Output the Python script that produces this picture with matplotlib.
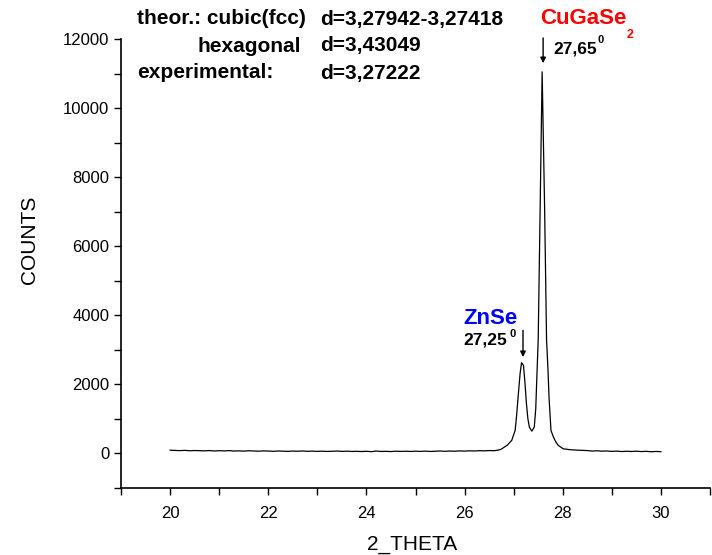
import matplotlib
matplotlib.use("Agg")
import matplotlib.pyplot as plt
from matplotlib.ticker import MultipleLocator

plt.rcParams['font.family'] = ['Liberation Sans', 'DejaVu Sans']

# 2-theta (degrees) and counts
two_theta = [
    20.0, 20.1, 20.2, 20.3, 20.4, 20.5, 20.6, 20.7, 20.8, 20.9,
    21.0, 21.1, 21.2, 21.3, 21.4, 21.5, 21.6, 21.7, 21.8, 21.9,
    22.0, 22.1, 22.2, 22.3, 22.4, 22.5, 22.6, 22.7, 22.8, 22.9,
    23.0, 23.1, 23.2, 23.3, 23.4, 23.5, 23.6, 23.7, 23.8, 23.9,
    24.0, 24.1, 24.2, 24.3, 24.4, 24.5, 24.6, 24.7, 24.8, 24.9,
    25.0, 25.1, 25.2, 25.3, 25.4, 25.5, 25.6, 25.7, 25.8, 25.9,
    26.0, 26.1, 26.2, 26.3, 26.4, 26.5, 26.6, 26.68,
    26.74, 26.79, 26.87, 26.96, 27.03, 27.06, 27.09, 27.13, 27.16, 27.20,
    27.23, 27.26, 27.29, 27.32, 27.37, 27.42, 27.45, 27.47, 27.50, 27.54,
    27.58, 27.63, 27.67, 27.70, 27.72, 27.76, 27.81, 27.86, 27.91, 28.01,
    28.14,
    28.3, 28.4, 28.5, 28.6, 28.7, 28.8, 28.9, 29.0, 29.1, 29.2,
    29.3, 29.4, 29.5, 29.6, 29.7, 29.8, 29.9, 30.0,
]
counts = [
    95, 88, 82, 90, 78, 85, 80, 76, 84, 72,
    80, 74, 82, 70, 76, 68, 78, 72, 65, 74,
    70, 62, 72, 66, 60, 70, 64, 72, 62, 68,
    60, 66, 58, 64, 70, 60, 66, 58, 62, 56,
    64, 52, 70, 58, 62, 55, 66, 60, 64, 58,
    66, 60, 68, 58, 64, 72, 62, 70, 66, 74,
    68, 76, 72, 80, 76, 84, 80, 95,
    120, 165, 240, 377, 667, 1100, 1632, 2300, 2628, 2550,
    2050, 1449, 1000, 763, 647, 763, 1300, 2116, 3300, 7140,
    11050, 7140, 3300, 2400, 1632, 667, 474, 330, 232, 135,
    110,
    95, 90, 84, 70, 78, 66, 72, 60, 68, 56,
    64, 58, 66, 55, 62, 50, 58, 52,
]

x_ticks = [20, 22, 24, 26, 28, 30]
y_ticks = [0, 2000, 4000, 6000, 8000, 10000, 12000]

info_left = ["theor.: cubic(fcc)", "hexagonal", "experimental:"]
info_right = ["d=3,27942-3,27418", "d=3,43049", "d=3,27222"]

peak_names = ["ZnSe", "CuGaSe"]
peak_pos = [27.19, 27.60]          # where the peaks sit on the drawn axis
peak_labels = ["27,25", "27,65"]
peak_tops = [2790, 11300]

W, H = 712, 555
fig = plt.figure(figsize=(W / 100, H / 100), dpi=100)
ax = fig.add_axes([121 / W, (H - 488) / H, (710 - 121) / W, (488 - 39) / H])

ax.plot(two_theta, counts, color='black', lw=0.9)

ax.set_xlim(19, 31)
ax.set_ylim(-1000, 12000)
ax.set_xticks(x_ticks)
ax.set_yticks(y_ticks)
ax.xaxis.set_minor_locator(MultipleLocator(1))
ax.yaxis.set_minor_locator(MultipleLocator(1000))
ax.tick_params(which='both', direction='out', length=5, width=1, labelsize=12)
ax.tick_params(axis='x', pad=8)
for s in ['top', 'right']:
    ax.spines[s].set_visible(False)
for s in ['left', 'bottom']:
    ax.spines[s].set_linewidth(1.2)


def fpos(px, py):
    return px / W, 1 - py / H


# axis titles
fig.text(*fpos(412, 544), "2_THETA", ha='center', va='center', fontsize=15)
fig.text(*fpos(29, 240), "COUNTS", ha='center', va='center', fontsize=15, rotation=90)

# info text block
fs = 15
fig.text(*fpos(137, 19), info_left[0], ha='left', va='center', fontsize=fs, fontweight='bold')
fig.text(*fpos(301, 46), info_left[1], ha='right', va='center', fontsize=fs, fontweight='bold')
fig.text(*fpos(137, 73), info_left[2], ha='left', va='center', fontsize=fs, fontweight='bold')
for i, t in enumerate(info_right):
    fig.text(*fpos(320, 19 + 27 * i), t, ha='left', va='center', fontsize=fs, fontweight='bold')

# peak labels
fig.text(*fpos(540, 19), peak_names[1], ha='left', va='center', fontsize=16,
         fontweight='bold', color='#ff0000')
fig.text(*fpos(627, 35), "2", ha='left', va='center', fontsize=9,
         fontweight='bold', color='#ff0000')
fig.text(*fpos(553, 49), peak_labels[1], ha='left', va='center', fontsize=12.5,
         fontweight='bold', color='black')
fig.text(*fpos(598, 40), "0", ha='left', va='center', fontsize=8,
         fontweight='bold', color='black')

fig.text(*fpos(463, 318), peak_names[0], ha='left', va='center', fontsize=16,
         fontweight='bold', color='#0000ff')
fig.text(*fpos(463, 340), peak_labels[0], ha='left', va='center', fontsize=12.5,
         fontweight='bold', color='black')
fig.text(*fpos(509, 334), "0", ha='left', va='center', fontsize=8,
         fontweight='bold', color='black')

arrow_len = [775, 730]
for xp, yt, ln in zip(peak_pos, peak_tops, arrow_len):
    ax.annotate("", xy=(xp, yt), xytext=(xp, yt + ln),
                arrowprops=dict(arrowstyle='-|>', color='black', lw=1, mutation_scale=8,
                                shrinkA=0, shrinkB=0),
                annotation_clip=False)

fig.savefig("out.png", dpi=100)
